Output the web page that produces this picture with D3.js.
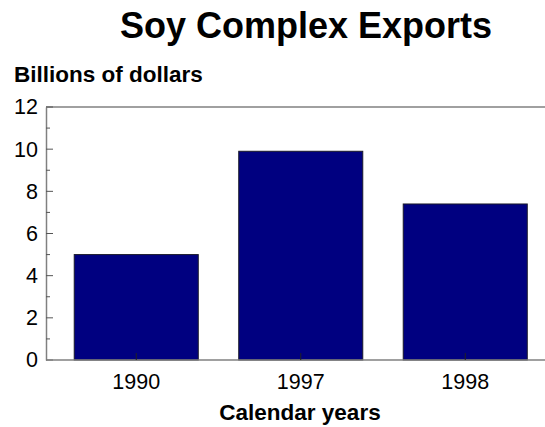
<!DOCTYPE html>
<html><head><meta charset="utf-8">
<script src="https://cdn.jsdelivr.net/npm/d3@7"></script>
<style>body{margin:0;background:#fff}svg{display:block}text{font-family:"Liberation Sans",Arial,sans-serif}</style>
</head><body><svg id="c" width="545" height="427"></svg>
<script>
const categories = ["1990", "1997", "1998"];
const values = [5.0, 9.9, 7.4];
const yTicks = [0, 2, 4, 6, 8, 10, 12];
const yMinorTicks = [1, 3, 5, 7, 9, 11];
const title = "Soy Complex Exports";
const yTitle = "Billions of dollars";
const xTitle = "Calendar years";

const svg = d3.select("#c");
const axisLeft = 46, axisRight = 545, yTop = 107, yBottom = 360;
const x = d3.scaleBand().domain(categories).range([54, 547.5]).paddingInner(0.246).paddingOuter(0.123);
const y = d3.scaleLinear().domain([0, 12]).range([yBottom, yTop]);

svg.append("text").attr("x", 306).attr("y", 38).attr("text-anchor", "middle")
  .attr("font-size", 36).attr("font-weight", "bold").text(title);
svg.append("text").attr("x", 14).attr("y", 82)
  .attr("font-size", 22.5).attr("font-weight", "bold").text(yTitle);

// bars
svg.append("g").selectAll("rect").data(categories).join("rect")
  .attr("x", d => x(d)).attr("width", x.bandwidth())
  .attr("y", (d, i) => y(values[i])).attr("height", (d, i) => y(0) - y(values[i]))
  .attr("fill", "#000080").attr("stroke", "#1a1a2a").attr("stroke-width", 1);

// top border
svg.append("line").attr("x1", axisLeft).attr("x2", axisRight).attr("y1", yTop).attr("y2", yTop)
  .attr("stroke", "#808080").attr("stroke-width", 1.5);

// y axis
const ya = svg.append("g").attr("transform", `translate(${axisLeft},0)`)
  .call(d3.axisLeft(y).tickValues(yTicks).tickSize(0).tickPadding(8));
ya.select(".domain").attr("stroke", "#808080").attr("stroke-width", 1.5);
ya.selectAll("text").attr("font-size", 21.5).attr("fill", "#000").attr("font-family", "Liberation Sans, Arial, sans-serif");
ya.append("g").selectAll("line").data(yTicks).join("line")
  .attr("x1", 0).attr("x2", 7).attr("y1", d => y(d)).attr("y2", d => y(d)).attr("stroke", "#555");
ya.append("g").selectAll("line").data(yMinorTicks).join("line")
  .attr("x1", 0).attr("x2", 4).attr("y1", d => y(d)).attr("y2", d => y(d)).attr("stroke", "#555");

// x axis
const xa = svg.append("g").attr("transform", `translate(0,${yBottom})`)
  .call(d3.axisBottom(x).tickSize(-7).tickPadding(14));
xa.select(".domain").attr("d", `M${axisLeft},0H${axisRight}`).attr("stroke", "#808080").attr("stroke-width", 1.5);
xa.selectAll(".tick line").attr("stroke", "#222");
xa.selectAll("text").attr("font-size", 21.5).attr("fill", "#000").attr("font-family", "Liberation Sans, Arial, sans-serif");

svg.append("text").attr("x", 300).attr("y", 420).attr("text-anchor", "middle")
  .attr("font-size", 22.5).attr("font-weight", "bold").text(xTitle);
</script></body></html>
